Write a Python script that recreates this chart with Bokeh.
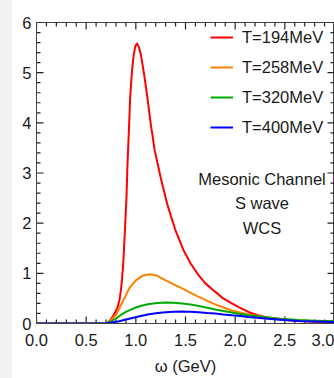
import numpy as np
from bokeh.plotting import figure
from bokeh.layouts import row
from bokeh.models import (Range1d, LinearAxis, Legend, Label, FixedTicker, PrintfTickFormatter,
                          Spacer)
from bokeh.embed import file_html
from bokeh.resources import INLINE

# --- data ---
w_194 = [0.0, 0.6, 0.70, 0.735, 0.766, 0.79, 0.816, 0.835, 0.85, 0.862, 0.873, 0.89, 0.906,
         0.916, 0.93, 0.943, 0.96, 0.978, 0.995, 1.012, 1.03, 1.05, 1.083, 1.116, 1.15, 1.19,
         1.25, 1.316, 1.40, 1.483, 1.55, 1.633, 1.70, 1.80, 1.88, 1.966, 2.05, 2.133, 2.22,
         2.30, 2.45, 2.633, 2.8, 3.0]
s_194 = [0.0, 0.0, 0.01, 0.05, 0.13, 0.22, 0.32, 0.47, 0.66, 0.9, 1.19, 1.85, 2.52,
         3.18, 3.84, 4.51, 5.0, 5.35, 5.53, 5.58, 5.51, 5.37, 4.97, 4.51, 3.98, 3.45,
         2.91, 2.38, 1.85, 1.45, 1.2, 0.96, 0.8, 0.63, 0.5, 0.4, 0.31, 0.23, 0.17,
         0.13, 0.08, 0.05, 0.035, 0.025]

w_258 = [0.0, 0.6, 0.683, 0.733, 0.80, 0.866, 0.933, 1.0, 1.066, 1.14, 1.216, 1.30, 1.38,
         1.466, 1.55, 1.633, 1.72, 1.80, 1.88, 1.966, 2.05, 2.133, 2.30, 2.45, 2.633, 2.8, 3.0]
s_258 = [0.0, 0.0, 0.0, 0.03, 0.17, 0.43, 0.70, 0.86, 0.95, 0.98, 0.95, 0.86, 0.78,
         0.70, 0.61, 0.53, 0.45, 0.38, 0.32, 0.26, 0.22, 0.18, 0.125, 0.09, 0.06, 0.05, 0.04]

w_320 = [0.0, 0.6, 0.70, 0.75, 0.80, 0.85, 0.90, 1.0, 1.066, 1.133, 1.22, 1.30, 1.38, 1.466,
         1.55, 1.633, 1.72, 1.80, 1.88, 1.966, 2.05, 2.133, 2.30, 2.45, 2.633, 2.8, 3.0]
s_320 = [0.0, 0.0, 0.0, 0.04, 0.10, 0.17, 0.23, 0.32, 0.36, 0.39, 0.41, 0.42, 0.415, 0.40,
         0.38, 0.35, 0.315, 0.28, 0.25, 0.22, 0.19, 0.165, 0.125, 0.095, 0.07, 0.055, 0.045]

w_400 = [0.0, 0.6, 0.70, 0.76, 0.833, 0.90, 0.966, 1.05, 1.133, 1.22, 1.30, 1.38, 1.466,
         1.55, 1.633, 1.72, 1.80, 1.88, 1.966, 2.05, 2.133, 2.30, 2.45, 2.633, 2.8, 3.0]
s_400 = [0.0, 0.0, 0.0, 0.02, 0.045, 0.08, 0.11, 0.15, 0.185, 0.21, 0.225, 0.235, 0.24,
         0.235, 0.225, 0.21, 0.20, 0.18, 0.165, 0.15, 0.13, 0.10, 0.075, 0.05, 0.04, 0.03]

series_labels = ["T=194MeV", "T=258MeV", "T=320MeV", "T=400MeV"]
series_colors = ["#ff0000", "#ff8000", "#00aa00", "#0000ff"]
annotation_lines = ["Mesonic Channel", "S wave", "WCS"]
x_title = "ω (GeV)"
x_major = [0.0, 0.5, 1.0, 1.5, 2.0, 2.5, 3.0]
y_major = [0, 1, 2, 3, 4, 5, 6]

X0, X1, Y0, Y1 = 0.0, 3.0, 0.0, 6.0
x_minor = [t for t in np.round(np.arange(X0, X1 + 1e-9, 0.1), 2) if t not in x_major]
y_minor = [t for t in np.round(np.arange(Y0, Y1 + 1e-9, 0.2), 2) if t not in y_major]

FONT = "Liberation Sans"
FS = "16.5px"
TXT = "#1a1a1a"
AX = "#444444"
TICK = "#222222"

STRIP = 12
W, H = 334 - STRIP, 378
BL, BR, BT, BB = 36 - STRIP, 0, 22, 55
FW, FH = W - BL - BR, H - BT - BB   # frame size in px

p = figure(width=W, height=H, output_backend="svg", toolbar_location=None,
           x_range=Range1d(X0, X1), y_range=Range1d(Y0, Y1),
           min_border_left=BL, min_border_right=BR, min_border_top=BT, min_border_bottom=BB,
           x_axis_location=None, y_axis_location=None)
p.grid.visible = False
p.outline_line_color = AX
p.outline_line_width = 1
p.background_fill_color = "white"
p.border_fill_color = "white"


def make_axis(ticks):
    ax = LinearAxis(ticker=FixedTicker(ticks=ticks))
    ax.axis_line_color = AX
    ax.axis_line_width = 1
    ax.major_tick_in = 0
    ax.major_tick_out = 0
    ax.minor_tick_in = 0
    ax.minor_tick_out = 0
    ax.major_label_text_font = FONT
    ax.major_label_text_font_size = FS
    ax.major_label_text_color = TXT
    ax.major_label_text_line_height = 1.0
    return ax


xb = make_axis(x_major)
xb.formatter = PrintfTickFormatter(format="%.1f")
xb.major_label_standoff = 10
xb.axis_label = x_title
xb.axis_label_text_font = FONT
xb.axis_label_text_font_size = FS
xb.axis_label_text_font_style = "normal"
xb.axis_label_text_color = TXT
xb.axis_label_text_line_height = 1.0
xb.axis_label_standoff = 8
p.add_layout(xb, "below")

yl = make_axis(y_major)
yl.major_label_standoff = 5
p.add_layout(yl, "left")

# inward frame ticks on all four sides, as short segments (length given in px)
MAJ, MIN = 7, 4
dx = (X1 - X0) / FW   # data units per px horizontally
dy = (Y1 - Y0) / FH   # data units per px vertically
for ticks, L in ((x_major, MAJ), (x_minor, MIN)):
    n = len(ticks)
    p.segment(x0=ticks, y0=[Y0] * n, x1=ticks, y1=[Y0 + L * dy] * n, line_color=TICK, line_width=1.2)
    p.segment(x0=ticks, y0=[Y1] * n, x1=ticks, y1=[Y1 - L * dy] * n, line_color=TICK, line_width=1.2)
for ticks, L in ((y_major, MAJ), (y_minor, MIN)):
    n = len(ticks)
    p.segment(x0=[X0] * n, y0=ticks, x1=[X0 + L * dx] * n, y1=ticks, line_color=TICK, line_width=1.2)
    p.segment(x0=[X1] * n, y0=ticks, x1=[X1 - L * dx] * n, y1=ticks, line_color=TICK, line_width=1.2)

renderers = []
for w, s, c in zip([w_194, w_258, w_320, w_400], [s_194, s_258, s_320, s_400], series_colors):
    renderers.append(p.line(w, s, line_color=c, line_width=2, line_join="round"))

legend = Legend(items=[(lab, [r]) for lab, r in zip(series_labels, renderers)],
                location=(174, 186), orientation="vertical",
                glyph_width=23, glyph_height=20, label_height=20, spacing=10,
                label_standoff=9, padding=0, margin=0,
                label_text_font=FONT, label_text_font_size=FS, label_text_color=TXT,
                border_line_alpha=0, background_fill_alpha=0)
p.add_layout(legend, "center")

for txt, yy in zip(annotation_lines, [2.89, 2.41, 1.91]):
    p.add_layout(Label(x=2.27, y=yy, text=txt, text_align="center", text_baseline="middle",
                       text_font=FONT, text_font_size=FS, text_color=TXT))

strip = Spacer(width=STRIP, height=H, background="#f2f2f2")
layout = row(strip, p, spacing=0)

open("out.html", "w").write(file_html(layout, INLINE))
